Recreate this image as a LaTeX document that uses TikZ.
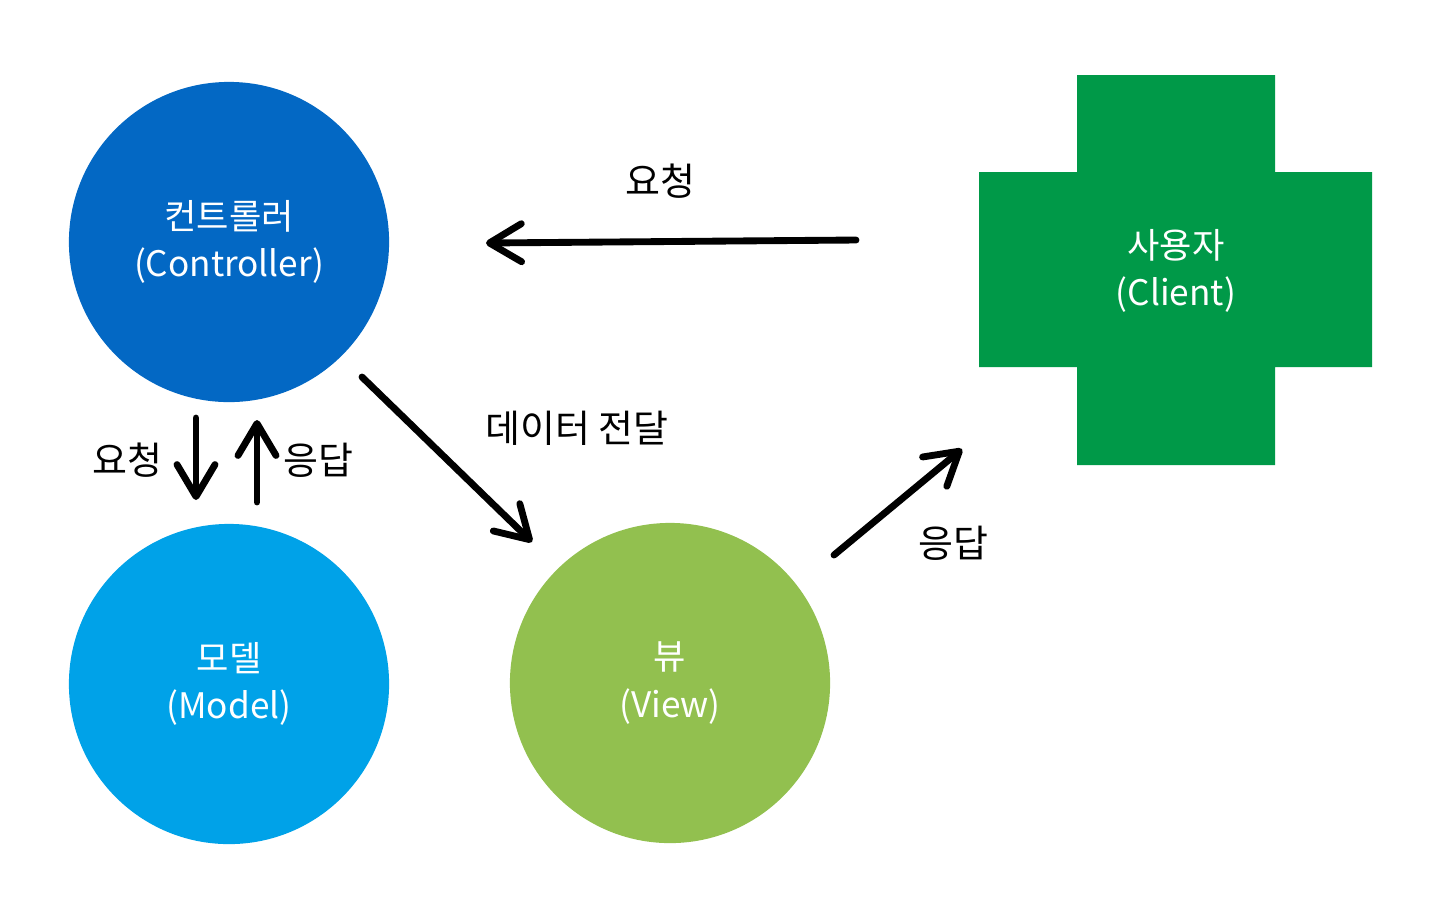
\documentclass[tikz,border=0pt]{standalone}
\usepackage{fontspec}
\setmainfont{Noto Sans CJK KR}
\usetikzlibrary{arrows.meta}

\definecolor{ctrlblue}{RGB}{3,104,196}
\definecolor{modelblue}{RGB}{0,162,232}
\definecolor{viewgreen}{RGB}{146,192,79}
\definecolor{clientgreen}{RGB}{0,153,72}

\tikzset{
  mvc/.style={circle, minimum size=3.2cm, inner sep=0pt, text=white,
    align=center, font=\fontsize{10}{13.4}\selectfont},
  flow/.style={line width=1.95pt, line cap=round,
    -{Straight Barb[length=3.2mm, width=3.8mm, line cap=round, line join=round]}},
  lbl/.style={font=\fontsize{10.8}{12}\selectfont}
}

\begin{document}
\begin{tikzpicture}[x=0.01cm, y=-0.01cm]
        % Page frame
        \useasboundingbox (0,0) rectangle (1449,911);

        % The three MVC circles
        \foreach \name/\x/\y/\col/\kor/\eng in {
            ctrl/229/242/ctrlblue/컨트롤러/Controller,
            model/229/684/modelblue/모델/Model,
            view/670/683/viewgreen/뷰/View}{
            \node[mvc, fill=\col] (\name) at (\x,\y) {\kor\\(\eng)};
          }

        % Client cross
        \fill[clientgreen] (1077,75) -- (1275,75) -- (1275,172) -- (1372,172)
          -- (1372,367) -- (1275,367) -- (1275,465) -- (1077,465) -- (1077,367)
          -- (979,367) -- (979,172) -- (1077,172) -- cycle;
        \node[mvc] (client) at (1176,271) {사용자\\(Client)};

        % Arrow ends
        \coordinate (reqFrom) at (856,240);
        \coordinate (reqTo) at (486,243);
        \coordinate (downFrom) at (196,418);
        \coordinate (downTo) at (196,500);
        \coordinate (upFrom) at (257,502);
        \coordinate (upTo) at (257,420);
        \coordinate (dataFrom) at (362,377);
        \coordinate (dataTo) at (532,542);
        \coordinate (respFrom) at (834,555);
        \coordinate (respTo) at (962,449);

        % Connectors
        \draw[flow] (reqFrom) -- (reqTo);
        \draw[flow] (downFrom) -- (downTo);
        \draw[flow] (upFrom) -- (upTo);
        \draw[flow] (dataFrom) -- (dataTo);
        \draw[flow] (respFrom) -- (respTo);

        % Labels
        \node[lbl] (reqLabel) at (660,181) {요청};
        \node[lbl] (modelReq) at (127,460) {요청};
        \node[lbl] (modelResp) at (318,460) {응답};
        \node[lbl] (dataLabel) at (577,428) {데이터 전달};
        \node[lbl] (respLabel) at (953,543) {응답};
      \end{tikzpicture}
\end{document}
